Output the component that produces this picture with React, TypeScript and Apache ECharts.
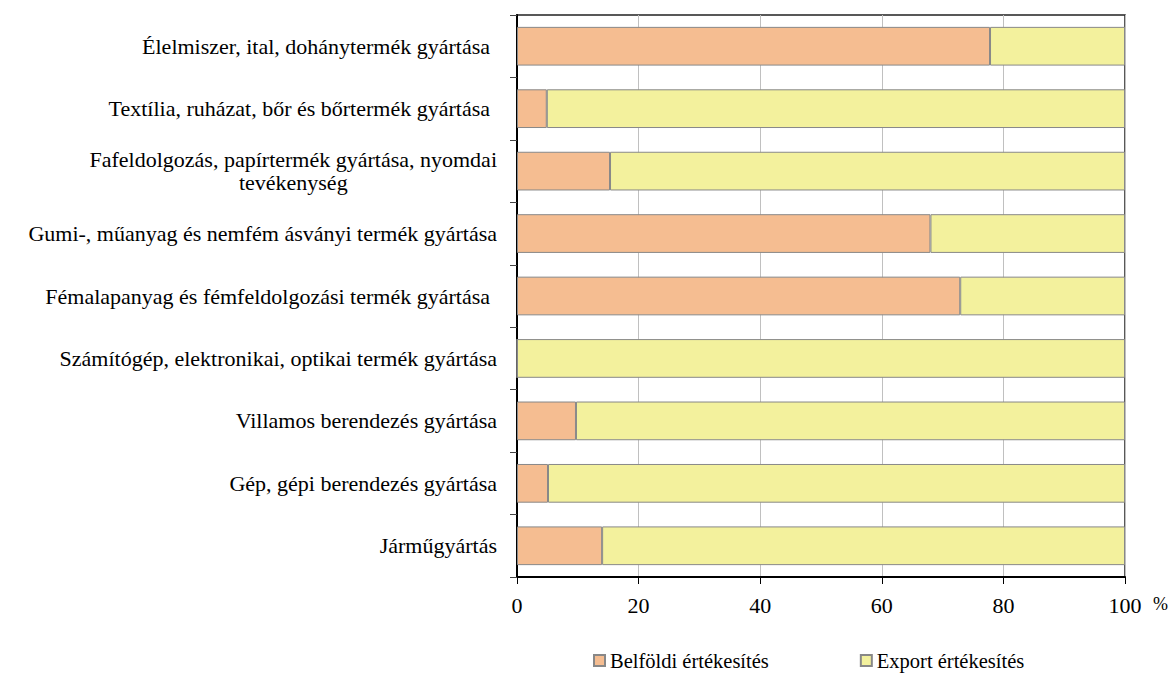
import React, { useEffect, useRef } from "react";
import * as echarts from "echarts";

const categories = [
  "Élelmiszer, ital, dohánytermék gyártása",
  "Textília, ruházat, bőr és bőrtermék gyártása",
  "Fafeldolgozás, papírtermék gyártása, nyomdai tevékenység",
  "Gumi-, műanyag és nemfém ásványi termék gyártása",
  "Fémalapanyag és fémfeldolgozási termék gyártása",
  "Számítógép, elektronikai, optikai termék gyártása",
  "Villamos berendezés gyártása",
  "Gép, gépi berendezés gyártása",
  "Járműgyártás",
];
const domestic = [77.8, 4.9, 15.3, 68.0, 72.9, 0, 9.7, 5.1, 14.0];
const exportSales = [22.2, 95.1, 84.7, 32.0, 27.1, 100, 90.3, 94.9, 86.0];
const seriesNames = ["Belföldi értékesítés", "Export értékesítés"];
const xTicks = { min: 0, max: 100, interval: 20 };
const trailingSpaceLabels = [
  "Élelmiszer, ital, dohánytermék gyártása",
  "Textília, ruházat, bőr és bőrtermék gyártása",
  "Fémalapanyag és fémfeldolgozási termék gyártása",
];

const FONT = "Liberation Serif";

export default function App() {
  const ref = useRef<HTMLDivElement>(null);
  useEffect(() => {
    if (!ref.current) return;
    const chart = echarts.init(ref.current, undefined, { renderer: "svg" });
    const base = { fontSize: 22, fontFamily: FONT, color: "#000", lineHeight: 23 };
    chart.setOption({
      animation: false,
      backgroundColor: "#fff",
      grid: {
        left: 517,
        right: 44,
        top: 15,
        bottom: 96,
        show: true,
        borderColor: "#222",
        borderWidth: 1.5,
        backgroundColor: "transparent",
      },
      xAxis: {
        type: "value",
        min: xTicks.min,
        max: xTicks.max,
        interval: xTicks.interval,
        axisLine: { show: true, lineStyle: { color: "#000", width: 2 } },
        axisTick: { show: true, length: 7, lineStyle: { color: "#000", width: 1 } },
        axisLabel: { ...base, margin: 17 },
        splitLine: { show: true, lineStyle: { color: "#c0c0c0", width: 1 } },
      },
      yAxis: {
        type: "category",
        inverse: true,
        data: categories,
        axisLine: { show: true, lineStyle: { color: "#000", width: 2 } },
        axisTick: { show: true, length: 7, lineStyle: { color: "#444", width: 1 } },
        splitLine: { show: false },
        axisLabel: {
          margin: 20,
          formatter: (v: string) => {
            if (v === categories[2]) {
              return "{a|Fafeldolgozás, papírtermék gyártása, nyomdai}\n{b|tevékenység}";
            }
            if (trailingSpaceLabels.includes(v)) return `{t|${v}}`;
            return `{n|${v}}`;
          },
          rich: {
            n: { ...base },
            t: { ...base, padding: [0, 7, 0, 0] },
            a: { ...base },
            b: { ...base, align: "center" },
          },
        },
      },
      legend: {
        data: seriesNames,
        left: 588,
        top: 645,
        icon: "rect",
        itemWidth: 11,
        itemHeight: 11,
        itemGap: 91,
        textStyle: { fontSize: 20.5, fontFamily: FONT, color: "#000" },
      },
      graphic: [
        {
          type: "text",
          left: 1153,
          top: 595,
          style: { text: "%", fontSize: 18, fontFamily: FONT, fill: "#000" },
        },
      ],
      series: [
        {
          name: seriesNames[0],
          type: "bar",
          stack: "total",
          data: domestic,
          barCategoryGap: "38%",
          itemStyle: { color: "#F5BD91", borderColor: "#888", borderWidth: 1 },
        },
        {
          name: seriesNames[1],
          type: "bar",
          stack: "total",
          data: exportSales,
          barCategoryGap: "38%",
          itemStyle: { color: "#F3F19D", borderColor: "#888", borderWidth: 1 },
        },
      ],
    });
    return () => chart.dispose();
  }, []);
  return (
    <div
      ref={ref}
      style={{ position: "fixed", left: 0, top: 0, width: 1169, height: 673 }}
    />
  );
}
